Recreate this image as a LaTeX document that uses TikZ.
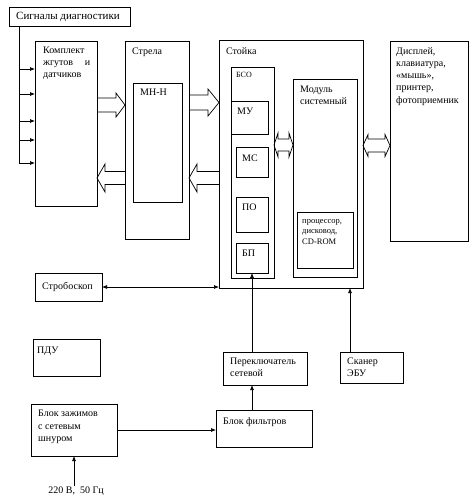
\documentclass[tikz,border=0pt]{standalone}
\usepackage{fontspec}
\setmainfont{Liberation Serif}
\usetikzlibrary{calc,arrows.meta}
\tikzset{
  bx/.style={draw, line width=0.7pt, anchor=north west, inner sep=0pt, outer sep=0pt},
  lbl/.style={anchor=north west, inner sep=0pt, align=left, font=\fontsize{10}{12}\selectfont},
  fat/.style={line width=0.7pt, line join=miter},
  arr/.style={line width=0.7pt, -{Latex[length=5pt,width=4pt]}},
  arrb/.style={line width=0.7pt, {Latex[length=5pt,width=4pt]}-{Latex[length=5pt,width=4pt]}},
}
% single hollow block arrow: #1 tail anchor, #2 tip anchor, #3 y centre, #4 body half, #5 head half, #6 signed head length
\newcommand\fatarrow[6]{\draw[fat] (#1 |- 0,#3-#4) -- ($(#2 |- 0,#3-#4)+(#6,0)$) -- ($(#2 |- 0,#3-#5)+(#6,0)$) -- (#2 |- 0,#3) -- ($(#2 |- 0,#3+#5)+(#6,0)$) -- ($(#2 |- 0,#3+#4)+(#6,0)$) -- (#1 |- 0,#3+#4);}
% double hollow block arrow: #1 left tip anchor, #2 right tip anchor, #3 y, #4 body half, #5 head half, #6 head length
\newcommand\fatdouble[6]{\draw[fat] (#1 |- 0,#3) -- ($(#1 |- 0,#3-#5)+(#6,0)$) -- ($(#1 |- 0,#3-#4)+(#6,0)$) -- ($(#2 |- 0,#3-#4)+(-#6,0)$) -- ($(#2 |- 0,#3-#5)+(-#6,0)$) -- (#2 |- 0,#3) -- ($(#2 |- 0,#3+#5)+(-#6,0)$) -- ($(#2 |- 0,#3+#4)+(-#6,0)$) -- ($(#1 |- 0,#3+#4)+(#6,0)$) -- ($(#1 |- 0,#3+#5)+(#6,0)$) -- cycle;}
\begin{document}
\begin{tikzpicture}[x=1pt,y=-1pt]
\useasboundingbox (0,0) rectangle (474,501);
% boxes
\node[bx, minimum width=121, minimum height=19, label={[lbl, font=\fontsize{11}{13}\selectfont, anchor=west, xshift=7pt]west:Сигналы диагностики}] (sig) at (9,7) {};
\node[bx, minimum width=62, minimum height=165, label={[lbl, xshift=8pt, yshift=-6pt]north west:Комплект\\\hbox to 47pt{жгутов\hfil и}\\датчиков}] (kom) at (35,41) {};
\node[bx, minimum width=64, minimum height=198, label={[lbl, xshift=7pt, yshift=-7pt]north west:Стрела}] (str) at (125,41) {};
\node[bx, minimum width=49, minimum height=119, label={[lbl, xshift=7pt, yshift=-6pt]north west:МН-Н}] (mnh) at (133,83) {};
\node[bx, minimum width=144, minimum height=248, label={[lbl, xshift=7pt, yshift=-7pt]north west:Стойка}] (stk) at (219,40) {};
\node[bx, minimum width=43, minimum height=211, label={[lbl, font=\fontsize{8}{10}\selectfont, xshift=5pt, yshift=-5pt]north west:БСО}] (bso) at (231,67) {};
\node[bx, minimum width=37, minimum height=33, label={[lbl, xshift=6pt, yshift=-7pt]north west:МУ}] (mu) at (231,101) {};
\node[bx, minimum width=32, minimum height=30, label={[lbl, xshift=6pt, yshift=-8pt]north west:МС}] (ms) at (236,147) {};
\node[bx, minimum width=32, minimum height=35, label={[lbl, xshift=6pt, yshift=-7pt]north west:ПО}] (po) at (236,197) {};
\node[bx, minimum width=32, minimum height=30, label={[lbl, xshift=6pt, yshift=-7pt]north west:БП}] (bp) at (236,243) {};
\node[bx, minimum width=64, minimum height=198, label={[lbl, xshift=7pt, yshift=-7pt]north west:Модуль\\системный}] (mod) at (293,79) {};
\node[bx, minimum width=56, minimum height=56, label={[lbl, font=\fontsize{8.5}{10.5}\selectfont, xshift=5pt, yshift=-7pt]north west:процессор,\\дисковод,\\CD-ROM}] (cpu) at (297,212) {};
\node[bx, minimum width=78, minimum height=200, label={[lbl, font=\fontsize{10}{12.3}\selectfont, xshift=6pt, yshift=-6pt]north west:Дисплей,\\клавиатура,\\«мышь»,\\принтер,\\фотоприемник}] (dsp) at (390,41) {};
\node[bx, minimum width=67, minimum height=28, label={[lbl, anchor=west, xshift=7pt]west:Стробоскоп}] (strob) at (35,273) {};
\node[bx, minimum width=67, minimum height=37, label={[lbl, xshift=4pt, yshift=-8pt]north west:ПДУ}] (pdu) at (33,339) {};
\node[bx, minimum width=84, minimum height=33, label={[lbl, xshift=7pt, yshift=-6pt]north west:Переключатель\\сетевой}] (per) at (223,352) {};
\node[bx, minimum width=63, minimum height=31, label={[lbl, xshift=7pt, yshift=-6pt]north west:Сканер\\ЭБУ}] (scan) at (340,352) {};
\node[bx, minimum width=86, minimum height=52, label={[lbl, font=\fontsize{10}{12.5}\selectfont, xshift=7pt, yshift=-6pt]north west:Блок зажимов\\с сетевым\\шнуром}] (zaz) at (31,404) {};
\node[bx, minimum width=96, minimum height=37, label={[lbl, xshift=7pt, yshift=-7pt]north west:Блок фильтров}] (fil) at (216,410) {};
\node[font=\fontsize{10}{12}\selectfont, inner sep=1pt] (pow) at (76,491) {220 В,\ \ 50 Гц};
% diagnostic signal bus
\coordinate (bus) at (19,163);
\draw[arr] (sig.south -| bus) |- (kom.west |- bus);
\foreach \yy in {69,94,121,140} \draw[arr] (bus |- 0,\yy) -- (kom.west |- 0,\yy);
% hollow block arrows
\fatarrow{kom.east}{str.west}{105}{7}{12}{-9}
\fatarrow{str.east}{stk.west}{102.5}{7.5}{13.5}{-11}
\fatarrow{str.west}{kom.east}{178}{6.5}{14}{8}
\fatarrow{stk.west}{str.east}{178}{6.5}{14}{8}
\fatdouble{bso.east}{mod.west}{145}{6}{12}{4}
\fatdouble{stk.east}{dsp.west}{145.5}{6.5}{11}{5}
% thin connectors
\draw[arrb] (strob.east) -- (stk.west |- strob.east);
\draw[arr] (per.north -| bp.south) -- (bp.south);
\draw[arr] (fil.north -| bp.south) -- (per.south -| bp.south);
\coordinate (sc) at ($(scan.north west)+(10,0)$);
\draw[arr] (sc) -- (sc |- stk.south);
\draw[arr] (zaz.east) -- (fil.west |- zaz.east);
\draw[arr] (pow.north -| zaz.south) -- (zaz.south);
\end{tikzpicture}
\end{document}
